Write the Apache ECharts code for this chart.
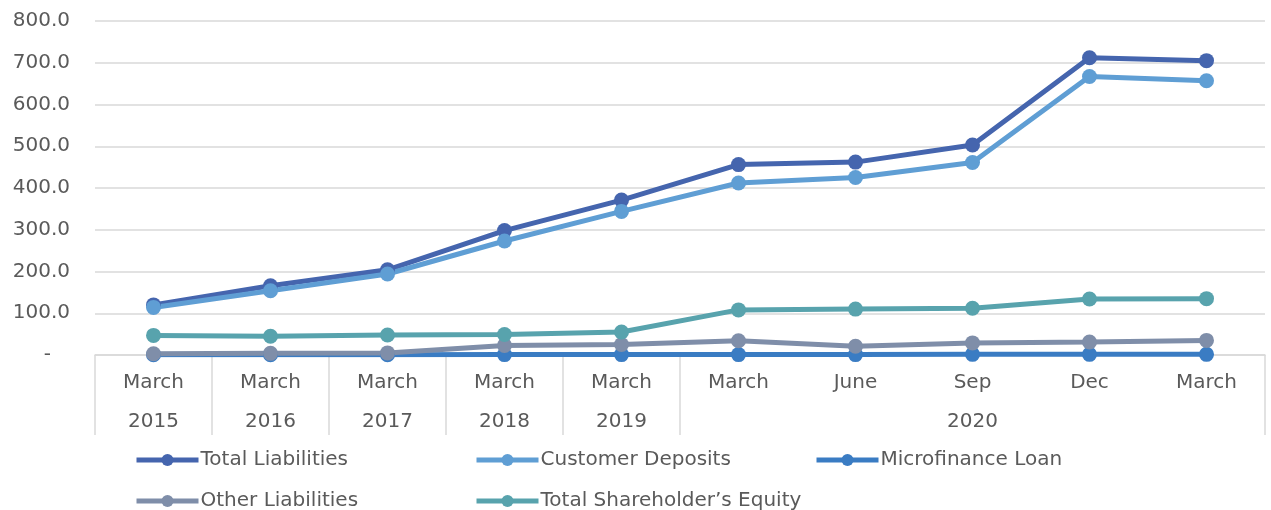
<!DOCTYPE html>
<html>
<head>
<meta charset="utf-8">
<script src="https://cdn.jsdelivr.net/npm/echarts@6/dist/echarts.min.js"></script>
<style>
  html, body { margin: 0; padding: 0; background: #fff; }
  #chart { width: 1271px; height: 510px; }
</style>
</head>
<body>
<div id="chart"></div>
<script>
// data
const months = ['March', 'March', 'March', 'March', 'March', 'March', 'June', 'Sep', 'Dec', 'March']
const years = ['2015', '2016', '2017', '2018', '2019', '', '', '2020', '', '']
const totalLiabilities = [120, 166, 204, 298, 371, 456, 462, 503, 712, 705]
const customerDeposits = [114, 154, 194, 273, 344, 412, 425, 461, 667, 657]
const microfinanceLoan = [0.5, 0.5, 0.5, 1, 1, 1, 1, 1.5, 1.5, 1.5]
const otherLiabilities = [3, 4, 5, 23, 25, 34, 21, 29, 31, 35]
const shareholderEquity = [47, 45, 48, 49, 55, 108, 110, 112, 134, 135]

const names = ['Total Liabilities', 'Customer Deposits', 'Microfinance Loan', 'Other Liabilities', 'Total Shareholder’s Equity']
const colors = ['#4565ae', '#5f9ed4', '#3a7cc3', '#7f8ea9', '#58a3ad']

const font = '"DejaVu Sans", sans-serif'
const fontSize = 20
const textColor = '#5a5a5a'

const chart = echarts.init(document.getElementById('chart'))

// 每条线的公共样式
const line = (i, data) => ({
  name: names[i],
  type: 'line',
  data,
  symbol: 'circle',
  symbolSize: 15,
  lineStyle: { width: 5, color: colors[i] },
  itemStyle: { color: colors[i] },
  emphasis: { disabled: true }
})

// 图例: 每项单独放, 三列两行
const legendPos = [[134, 450], [474, 450], [814, 450], [134, 491], [474, 491]]
const legends = names.map((n, i) => ({
  data: [n],
  left: legendPos[i][0],
  top: legendPos[i][1],
  padding: 0,
  itemWidth: 62,
  itemHeight: 15,
  itemGap: 0,
  lineStyle: { width: 5 },
  textStyle: { fontFamily: font, fontSize: fontSize, color: textColor, padding: [0, 0, 0, -3] }
}))

chart.setOption({
  animation: false,
  grid: { left: 95, right: 6, top: 21, bottom: 155 },
  legend: legends,
  xAxis: {
    type: 'category',
    data: months,
    axisLine: { lineStyle: { color: '#d9d9d9', width: 1.5 } },
    axisTick: {
      show: true,
      length: 80,
      lineStyle: { color: '#d9d9d9', width: 1.5 },
      // 2020 以内的月份之间不画分隔线
      interval: (idx) => idx <= 5
    },
    axisLabel: {
      interval: 0,
      margin: 8,
      fontFamily: font,
      fontSize: fontSize,
      color: textColor,
      lineHeight: 39,
      formatter: (v, i) => v + '\n' + (years[i] || ' ')
    }
  },
  yAxis: {
    type: 'value',
    min: 0,
    max: 800,
    interval: 100,
    axisLabel: {
      margin: 25,
      fontFamily: font,
      fontSize: fontSize,
      color: textColor,
      formatter: v => v === 0 ? '-   ' : v.toFixed(1)
    },
    splitLine: { lineStyle: { color: '#d9d9d9', width: 1.5 } }
  },
  series: [
    line(0, totalLiabilities),
    line(1, customerDeposits),
    line(2, microfinanceLoan),
    line(3, otherLiabilities),
    line(4, shareholderEquity)
  ]
})
</script>
</body>
</html>
